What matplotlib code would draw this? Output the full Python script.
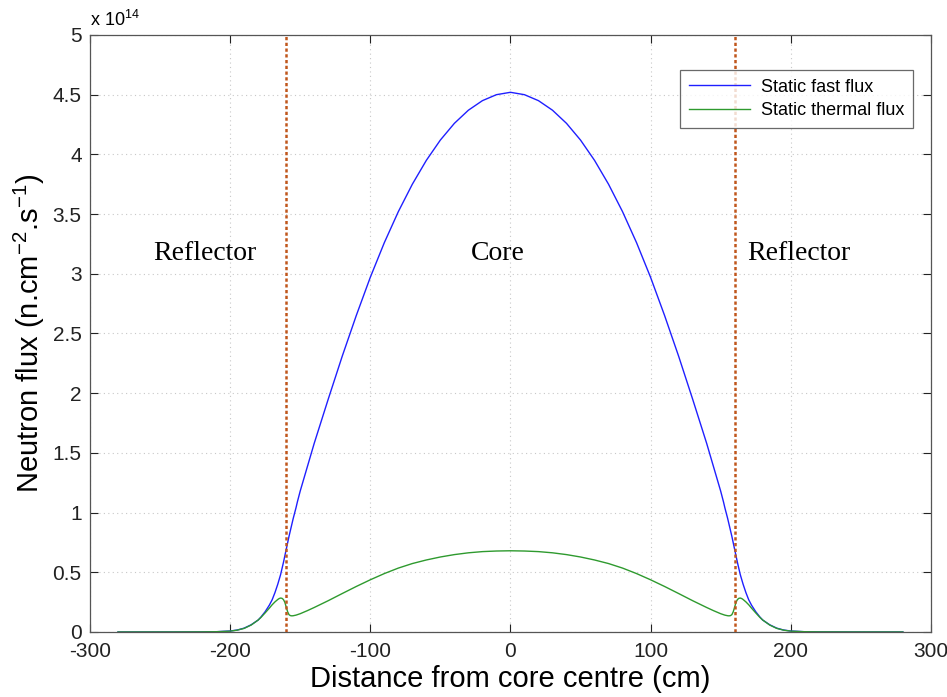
import matplotlib
matplotlib.use("Agg")
import matplotlib.pyplot as plt

# Positions along the core axis (cm)
distance_cm = [
    -280, -260, -240, -220, -210, -200, -195, -190, -185, -180, -178, -175,
    -172, -170, -168, -166, -165, -164, -163, -162, -161, -160, -159, -158,
    -157, -156, -155, -153, -152, -150, -145, -140, -130, -120, -110, -100,
    -90, -80, -70, -60, -50, -40, -30, -20, -10, 0,
    10, 20, 30, 40, 50, 60, 70, 80, 90, 100, 110, 120, 130, 140, 145, 150,
    152, 153, 155, 156, 157, 158, 159, 160, 161, 162, 163, 164, 165, 166,
    168, 170, 172, 175, 178, 180, 185, 190, 195, 200, 210, 220, 240, 260, 280,
]

# Fast group flux (x 1e14 n/cm^2/s)
fast_flux = [
    0.0, 0.0, 0.0001, 0.0008, 0.002, 0.008, 0.016, 0.032, 0.06, 0.10, 0.125, 0.17,
    0.225, 0.27, 0.33, 0.40, 0.44, 0.48, 0.53, 0.58, 0.635, 0.69, 0.745, 0.80,
    0.85, 0.90, 0.95, 1.04, 1.09, 1.18, 1.38, 1.58, 1.95, 2.31, 2.65, 2.97,
    3.26, 3.52, 3.75, 3.95, 4.12, 4.26, 4.37, 4.45, 4.50, 4.52,
    4.50, 4.45, 4.37, 4.26, 4.12, 3.95, 3.75, 3.52, 3.26, 2.97, 2.65, 2.31,
    1.95, 1.58, 1.38, 1.18, 1.09, 1.04, 0.95, 0.90, 0.85, 0.80, 0.745, 0.69,
    0.635, 0.58, 0.53, 0.48, 0.44, 0.40, 0.33, 0.27, 0.225, 0.17, 0.125, 0.10,
    0.06, 0.032, 0.016, 0.008, 0.002, 0.0008, 0.0001, 0.0, 0.0,
]

# Thermal group flux (x 1e14 n/cm^2/s)
thermal_flux = [
    0.0, 0.0, 0.0001, 0.0008, 0.002, 0.007, 0.015, 0.030, 0.058, 0.100, 0.122, 0.160,
    0.200, 0.228, 0.252, 0.272, 0.280, 0.284, 0.282, 0.272, 0.250, 0.210, 0.170, 0.145,
    0.137, 0.135, 0.136, 0.141, 0.145, 0.153, 0.178, 0.205, 0.262, 0.322, 0.381, 0.437,
    0.489, 0.535, 0.573, 0.603, 0.628, 0.648, 0.663, 0.673, 0.678, 0.680,
    0.678, 0.673, 0.663, 0.648, 0.628, 0.603, 0.573, 0.535, 0.489, 0.437, 0.381,
    0.322, 0.262, 0.205, 0.178, 0.153, 0.145, 0.141, 0.136, 0.135, 0.137, 0.145,
    0.170, 0.210, 0.250, 0.272, 0.282, 0.284, 0.280, 0.272, 0.252, 0.228, 0.200,
    0.160, 0.122, 0.100, 0.058, 0.030, 0.015, 0.007, 0.002, 0.0008, 0.0001, 0.0, 0.0,
]

core_boundaries = [-160, 160]
region_labels = ["Reflector", "Core", "Reflector"]
region_label_x = [-218, -9, 206]
region_label_y = 3.17

x_ticks = [-300, -200, -100, 0, 100, 200, 300]
y_ticks = [0, 0.5, 1, 1.5, 2, 2.5, 3, 3.5, 4, 4.5, 5]

plt.rcParams["font.family"] = ["Liberation Sans", "DejaVu Sans"]
plt.rcParams["axes.unicode_minus"] = False
plt.rcParams["mathtext.fontset"] = "custom"
plt.rcParams["mathtext.rm"] = "Liberation Sans"

fig = plt.figure(figsize=(9.47, 6.97), dpi=100)
ax = fig.add_axes([0.095, 0.0933, 0.888, 0.8565])

ax.plot(distance_cm, fast_flux, color="#1f1fff", lw=1.0, label="Static fast flux")
ax.plot(distance_cm, thermal_flux, color="#2e9a2e", lw=1.0, label="Static thermal flux")

for xb in core_boundaries:
    ax.axvline(xb, color="#c0561c", lw=1.8, ls=(0, (1.3, 1.0)), zorder=3)

for label, xl in zip(region_labels, region_label_x):
    ax.text(xl, region_label_y, label, family=["Liberation Serif", "DejaVu Serif"],
            fontsize=20, ha="center", va="center")

ax.set_xlim(-300, 300)
ax.set_ylim(0, 5)
ax.set_xticks(x_ticks)
ax.set_yticks(y_ticks)
ax.set_yticklabels([f"{v:g}" for v in y_ticks])
ax.tick_params(direction="in", length=6, width=0.8, labelsize=15,
               top=True, right=True, colors="#222222")
ax.tick_params(axis="x", pad=7)
ax.tick_params(axis="y", pad=6)
ax.grid(True, ls=(0, (1, 3)), color="#c8c8c8", lw=0.8)
for sp in ax.spines.values():
    sp.set_color("#555555")
    sp.set_linewidth(0.9)

ax.text(0.0, 1.008, r"x 10$^{14}$", transform=ax.transAxes, fontsize=13,
        ha="left", va="bottom")

ax.set_xlabel("Distance from core centre (cm)", fontsize=21, labelpad=3)
ax.set_ylabel(r"Neutron flux (n.cm$^{-2}$.s$^{-1}$)", fontsize=21, labelpad=4)

leg = ax.legend(loc="upper right", bbox_to_anchor=(0.99, 0.957), fontsize=13,
                frameon=True, fancybox=False, handlelength=3.4,
                borderpad=0.5, labelspacing=0.35, handletextpad=0.6)
leg.get_frame().set_edgecolor("#444444")
leg.get_frame().set_linewidth(0.9)

fig.savefig("out.png", dpi=100)
